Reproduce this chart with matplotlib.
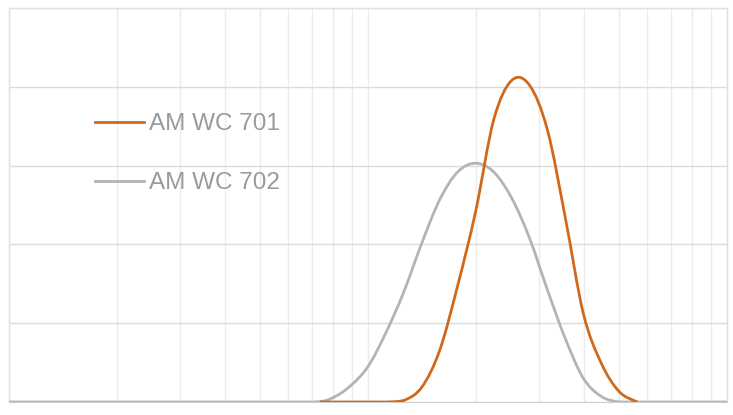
import matplotlib.pyplot as plt
import numpy as np
from matplotlib.path import Path
from matplotlib.patches import PathPatch
from matplotlib.lines import Line2D
from matplotlib.ticker import LogLocator, NullFormatter

# particle size (log axis) and frequency
size_702 = [1.0, 5.0, 7.08, 7.94, 8.91, 10.0, 11.22, 12.59, 14.13, 15.85, 17.78, 19.95,
            22.39, 25.12, 28.18, 31.62, 35.48, 39.81, 44.67, 50.12, 56.23, 100.0]
freq_702 = [0, 0, 0, 0.05, 0.20, 0.45, 0.88, 1.40, 2.02, 2.57, 2.92, 3.03,
            2.92, 2.59, 2.08, 1.42, 0.80, 0.30, 0.07, 0, 0, 0]

size_701 = [7.35, 10.0, 11.22, 12.59, 14.13, 15.85, 17.78, 19.95, 22.39, 25.12,
            28.18, 31.62, 35.48, 39.81, 44.67, 50.12, 56.23]
freq_701 = [0, 0, 0, 0.02, 0.19, 0.66, 1.48, 2.42, 3.58, 4.08,
            4.02, 3.45, 2.33, 1.12, 0.49, 0.13, 0]

colors = {'AM WC 701': '#d2691a', 'AM WC 702': '#b4b4b0'}


def smooth_path(xs, ys):
    # Excel style smoothed line: cubic bezier segments through the points (log x)
    lx = np.log10(xs)
    ys = np.asarray(ys, float)
    verts = [(xs[0], ys[0])]
    codes = [Path.MOVETO]
    n = len(lx)
    for i in range(n - 1):
        i0 = max(i - 1, 0)
        i3 = min(i + 2, n - 1)
        c1x = lx[i] + (lx[i + 1] - lx[i0]) / 6
        c1y = ys[i] + (ys[i + 1] - ys[i0]) / 6
        c2x = lx[i + 1] - (lx[i3] - lx[i]) / 6
        c2y = ys[i + 1] - (ys[i3] - ys[i]) / 6
        verts += [(10 ** c1x, max(c1y, 0)), (10 ** c2x, max(c2y, 0)), (xs[i + 1], ys[i + 1])]
        codes += [Path.CURVE4] * 3
    return Path(verts, codes)


fig = plt.figure(figsize=(7.33, 4.15), dpi=100)
ax = fig.add_axes([9/733, 13/415, 718/733, 394/415])

ax.add_patch(PathPatch(smooth_path(size_702, freq_702), fill=False,
                       edgecolor=colors['AM WC 702'], lw=2.0, zorder=3))
ax.add_patch(PathPatch(smooth_path(size_701, freq_701), fill=False,
                       edgecolor=colors['AM WC 701'], lw=2.0, zorder=4))

ax.set_xscale('log')
ax.set_xlim(1, 100)
ax.set_ylim(0, 5)
ax.set_yticks([0, 1, 2, 3, 4, 5])
ax.xaxis.set_major_locator(LogLocator(base=10))
ax.xaxis.set_minor_locator(LogLocator(base=10, subs=np.arange(2, 10)))
ax.xaxis.set_minor_formatter(NullFormatter())
ax.tick_params(which='both', length=0, labelbottom=False, labelleft=False)
ax.grid(axis='y', color='#dcdcdc', lw=1.0)
ax.grid(axis='x', which='both', color='#ececec', lw=1.0)
ax.set_axisbelow(True)
for s in ['left', 'top', 'right']:
    ax.spines[s].set_color('#e0e0e0')
    ax.spines[s].set_linewidth(1.0)
ax.spines['bottom'].set_color('#cfcfcf')

handles = [Line2D([], [], color=c, lw=2.0) for c in colors.values()]
leg = ax.legend(handles, list(colors.keys()), loc='upper left',
                bbox_to_anchor=(83/733, 1 - 101/415),
                bbox_transform=fig.transFigure, frameon=False, borderpad=0,
                handlelength=2.0, handletextpad=0.2, labelspacing=1.52,
                prop={'family': 'Liberation Sans', 'size': 17.5})
for t in leg.get_texts():
    t.set_color('#9a9a9a')

fig.savefig('out.png', dpi=100)
